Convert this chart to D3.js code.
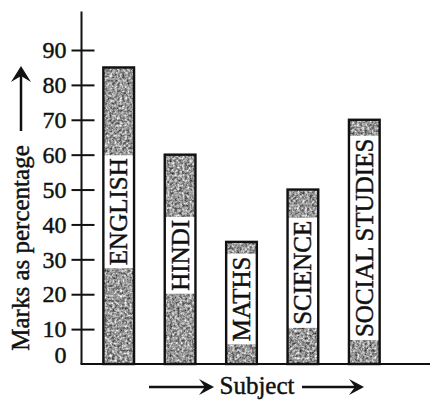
<!DOCTYPE html>
<html>
<head>
    <meta charset="utf-8">
    <title>Marks as percentage</title>
    <script src="https://cdn.jsdelivr.net/npm/d3@7"></script>
    <style>
        body { margin: 0; background: #fff; }
        text { font-family: "Liberation Serif", "Times New Roman", serif; fill: #111; stroke: #111; stroke-width: 0.45px; }
    </style>
</head>
<body>
    <svg id="chart"></svg>
    <script>
        // data
        const subjects = ['ENGLISH', 'HINDI', 'MATHS', 'SCIENCE', 'SOCIAL STUDIES'];
        const marks = [85, 60, 35, 50, 70];
        const yTicks = [0, 10, 20, 30, 40, 50, 60, 70, 80, 90];

        const W = 430, H = 401;
        const svg = d3.select('#chart')
            .attr('width', W)
            .attr('height', H);

        // speckled grey fill, like the printed texture
        const defs = svg.append('defs');
        const grain = defs.append('filter')
            .attr('id', 'grain')
            .attr('x', 0).attr('y', 0).attr('width', 1).attr('height', 1)
            .attr('color-interpolation-filters', 'sRGB');
        grain.append('feTurbulence')
            .attr('type', 'fractalNoise')
            .attr('baseFrequency', 0.4)
            .attr('numOctaves', 3)
            .attr('seed', 4)
            .attr('result', 'noise');
        grain.append('feColorMatrix')
            .attr('in', 'noise')
            .attr('type', 'matrix')
            .attr('values', '1.15 0 0 0 0.02  1.15 0 0 0 0.02  1.15 0 0 0 0.02  0 0 0 0 1')
            .attr('result', 'grey');
        grain.append('feComposite')
            .attr('in', 'grey')
            .attr('in2', 'SourceGraphic')
            .attr('operator', 'in');

        const y = d3.scaleLinear().domain([0, 90]).range([364, 50]);
        const x = d3.scaleBand()
            .domain(subjects)
            .range([88, 395])
            .paddingInner(0.5)
            .paddingOuter(0.25);

        // y axis with ticks crossing the line
        const yAxis = d3.axisLeft(y)
            .tickValues(yTicks)
            .tickSize(10)
            .tickPadding(5);
        const gy = svg.append('g')
            .attr('transform', 'translate(81.5,0)')
            .call(yAxis);
        gy.select('.domain').remove();
        gy.selectAll('.tick line')
            .attr('x1', 13)
            .attr('stroke', '#111')
            .attr('stroke-width', 2)
            .filter(d => d === 0).remove();
        gy.selectAll('.tick text')
            .attr('font-size', 24)
            .attr('font-family', '"Liberation Serif", serif')
            .attr('fill', '#111')
            .attr('dy', d => d === 0 ? '-0.05em' : '0.32em');

        svg.append('line')
            .attr('x1', 81.5).attr('x2', 81.5)
            .attr('y1', y(0)).attr('y2', y(101))
            .attr('stroke', '#111').attr('stroke-width', 2);

        // x baseline
        svg.append('line')
            .attr('x1', 80.5).attr('x2', W)
            .attr('y1', y(0)).attr('y2', y(0))
            .attr('stroke', '#111').attr('stroke-width', 2);

        const bars = svg.selectAll('.bar')
            .data(subjects)
            .join('g')
            .attr('class', 'bar');

        bars.append('rect')
            .attr('x', d => x(d))
            .attr('y', (d, i) => y(marks[i]))
            .attr('width', x.bandwidth())
            .attr('height', (d, i) => y(0) - y(marks[i]))
            .attr('fill', '#888')
            .attr('filter', 'url(#grain)');

        // label sits in a white strip inside the bar
        const lab = bars.append('g')
            .attr('transform', (d, i) => {
                const cx = x(d) + x.bandwidth() / 2;
                const cy = (y(0) + y(marks[i])) / 2 - 4;
                return `translate(${cx},${cy}) rotate(-90)`;
            });
        lab.append('rect').attr('fill', '#fff');
        const txt = lab.append('text')
            .attr('text-anchor', 'middle')
            .attr('dy', '0.34em')
            .attr('font-size', 25)
            .text(d => d);
        txt.each(function () {
            const len = this.getComputedTextLength();
            d3.select(this.parentNode).select('rect')
                .attr('x', -len / 2 - 3)
                .attr('width', len + 6)
                .attr('y', -x.bandwidth() / 2)
                .attr('height', x.bandwidth());
        });

        bars.append('rect')
            .attr('x', d => x(d))
            .attr('y', (d, i) => y(marks[i]))
            .attr('width', x.bandwidth())
            .attr('height', (d, i) => y(0) - y(marks[i]))
            .attr('fill', 'none')
            .attr('stroke', '#111')
            .attr('stroke-width', 2.4);

        // y axis title with arrow
        svg.append('text')
            .attr('transform', 'translate(29,248) rotate(-90)')
            .attr('text-anchor', 'middle')
            .attr('font-size', 25)
            .text('Marks as percentage');
        svg.append('line')
            .attr('x1', 21).attr('x2', 21)
            .attr('y1', 131).attr('y2', 74)
            .attr('stroke', '#111').attr('stroke-width', 2.5);
        svg.append('path')
            .attr('d', 'M21,66 L31,82 L21,76 L11,82 Z')
            .attr('fill', '#111');

        // x axis title with arrows either side
        svg.append('text')
            .attr('x', 257).attr('y', 394)
            .attr('text-anchor', 'middle')
            .attr('font-size', 25)
            .text('Subject');
        const arrow = (x0, x1, ay) => {
            svg.append('line')
                .attr('x1', x0).attr('x2', x1 - 6)
                .attr('y1', ay).attr('y2', ay)
                .attr('stroke', '#111').attr('stroke-width', 2.5);
            svg.append('path')
                .attr('d', `M${x1},${ay} L${x1 - 15},${ay - 8} L${x1 - 9},${ay} L${x1 - 15},${ay + 8} Z`)
                .attr('fill', '#111');
        };
        arrow(149, 214, 387);
        arrow(302, 364, 387);
    </script>
</body>
</html>
